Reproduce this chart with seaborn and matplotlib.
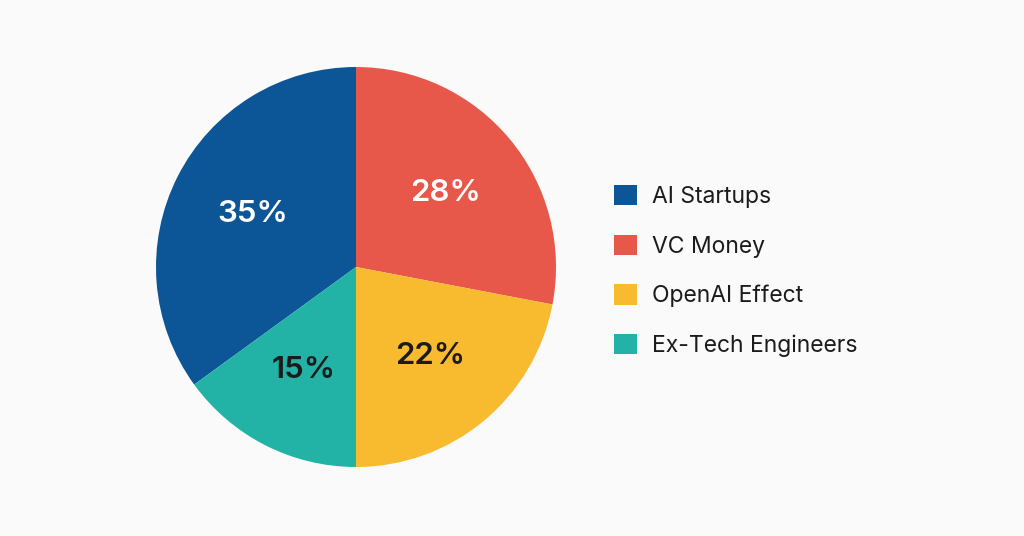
import seaborn as sns
from matplotlib import pyplot as plt

# data
categories = ['AI Startups', 'VC Money', 'OpenAI Effect', 'Ex-Tech Engineers']
shares = [35, 28, 22, 15]
slice_colors = ['#0C5596', '#E8584A', '#F8BA2E', '#22B3A6']
label_colors = ['white', 'white', '#1b1b1b', '#1b1b1b']

sns.set_theme(style="white")
plt.rcParams['font.family'] = ['Inter', 'DejaVu Sans']

fig = plt.figure(figsize=(10.24, 5.36), dpi=100, facecolor='#FAFAFA')
# pie: center ~ (356, 267) px, radius ~ 200 px
ax = fig.add_axes([156 / 1024, (536 - 267 - 200) / 536, 400 / 1024, 400 / 536])
ax.set_facecolor('#FAFAFA')

palette = sns.color_palette(slice_colors)
wedges, texts, autotexts = ax.pie(
    shares,
    colors=palette,
    startangle=90 + 3.6 * shares[0],
    counterclock=False,
    autopct='%d%%',
    pctdistance=0.58,
    wedgeprops={'linewidth': 0},
    textprops={'fontsize': 22.5, 'fontweight': 'semibold'},
)
for t, c in zip(autotexts, label_colors):
    t.set_color(c)
ax.set_xlim(-1, 1)
ax.set_ylim(-1, 1)
ax.set_aspect('equal')

leg = fig.legend(
    wedges, categories,
    loc='center left', bbox_to_anchor=(614 / 1024, 1 - 271 / 536),
    frameon=False, fontsize=16.5,
    handlelength=1.0, handleheight=1.0, handletextpad=0.65,
    labelspacing=1.16, borderpad=0, borderaxespad=0,
)
for t in leg.get_texts():
    t.set_color('#1b1b1b')

fig.savefig('out.png', dpi=100, facecolor=fig.get_facecolor())
